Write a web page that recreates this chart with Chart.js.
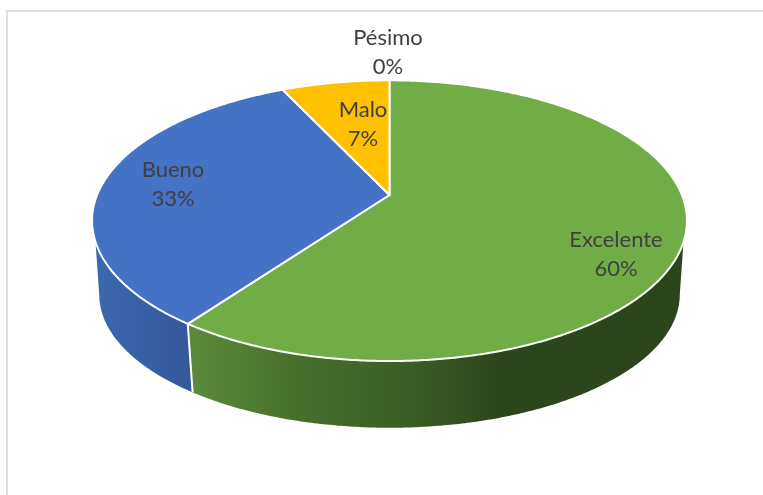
<!DOCTYPE html>
<html>
<head>
<meta charset="utf-8">
<style>
  html, body { margin: 0; background: #fff; overflow: hidden; }
  #frame { position: absolute; left: 6px; top: 10px; right: 0; bottom: 0; border-left: 2px solid #dfdfdf; border-top: 2px solid #dfdfdf; }
  #pie { position: absolute; left: 0; top: 0; }
</style>
</head>
<body>
<div id="frame"></div>
<canvas id="pie" width="763" height="495"></canvas>
<script src="https://cdn.jsdelivr.net/npm/chart.js@4/dist/chart.umd.js"></script>
<script>
const categories = ['Excelente', 'Bueno', 'Malo', 'Pésimo']
const percents = [60, 33, 7, 0]
const colors = ['#70ad47', '#4472c4', '#ffc000', '#a5a5a5']

// where each label is centred, same order as categories
const labelSpots = [[616, 240], [173, 170], [363, 110], [388, 38]]
const lineGap = 29

// perspective of the tilted pie, worked out from the picture
const tilt = -0.183
const stretchX = 2.565
const stretchY = 1.19
const rad = Math.PI / 180

function ringPoint(arc, a, low) {
  const R = arc.outerRadius
  const px = Math.cos(a)
  const py = Math.sin(a)
  const d = 1 + tilt * py
  const x = stretchX * R * px / d
  const y = stretchY * R * py / d
  if (!low) return [arc.x + x, arc.y + y]
  return [arc.x + x * 0.976, arc.y + 75 + y * 0.95]
}

function traceRing(ctx, arc, from, to, low) {
  const steps = Math.max(2, Math.ceil(Math.abs(to - from) / (0.5 * rad)))
  for (let i = 0; i <= steps; i++) {
    const p = ringPoint(arc, from + (to - from) * i / steps, low)
    ctx.lineTo(p[0], p[1])
  }
}

// arcs keep the angles Chart.js gives them, only the outline is projected
Chart.ArcElement.prototype.draw = function (ctx) {
  if (this.endAngle - this.startAngle < 0.001) return
  ctx.save()
  ctx.beginPath()
  ctx.moveTo(this.x, this.y)
  traceRing(ctx, this, this.startAngle, this.endAngle, false)
  ctx.closePath()
  ctx.fillStyle = this.options.backgroundColor
  ctx.fill()
  ctx.strokeStyle = '#fff'
  ctx.lineWidth = 2
  ctx.lineJoin = 'round'
  ctx.stroke()
  ctx.restore()
}

const wallColors = [
  [[194, '#5a8a3a'], [300, '#476f2b'], [400, '#3d5f26'], [500, '#2d451c'], [686, '#2d451c']],
  [[95, '#3c68ae'], [194, '#33589a']],
]

const wallPlugin = {
  id: 'wall',
  beforeDatasetsDraw(chart) {
    const ctx = chart.ctx
    const arcs = chart.getDatasetMeta(0).data
    const topRight = 19 * rad, topLeft = 161 * rad
    const lowRight = 10.5 * rad, lowLeft = 169.5 * rad
    wallColors.forEach((stops, i) => {
      const arc = arcs[i]
      const from = Math.max(arc.startAngle, topRight)
      const to = Math.min(arc.endAngle, topLeft)
      if (to <= from) return
      const lowFrom = from === topRight ? lowRight : from
      const lowTo = to === topLeft ? lowLeft : to
      const x0 = stops[0][0], x1 = stops[stops.length - 1][0]
      const grad = ctx.createLinearGradient(x0, 0, x1, 0)
      stops.forEach(s => grad.addColorStop((s[0] - x0) / (x1 - x0), s[1]))
      ctx.save()
      ctx.beginPath()
      traceRing(ctx, arc, from, to, false)
      traceRing(ctx, arc, lowTo, lowFrom, true)
      ctx.closePath()
      ctx.fillStyle = grad
      ctx.fill()
      ctx.restore()
    })
    // white seam between the two walls
    const seam = arcs[0].endAngle
    const a = ringPoint(arcs[0], seam, false), b = ringPoint(arcs[0], seam, true)
    ctx.save()
    ctx.strokeStyle = '#fff'
    ctx.lineWidth = 2
    ctx.beginPath()
    ctx.moveTo(a[0], a[1])
    ctx.lineTo(b[0], b[1])
    ctx.stroke()
    ctx.restore()
  },
}

const labelPlugin = {
  id: 'sliceLabels',
  afterDatasetsDraw(chart) {
    const ctx = chart.ctx
    ctx.save()
    ctx.font = '22px Lato'
    ctx.fillStyle = '#404040'
    ctx.textAlign = 'center'
    ctx.textBaseline = 'middle'
    categories.forEach((name, i) => {
      const spot = labelSpots[i]
      ctx.fillText(name, spot[0], spot[1])
      ctx.fillText(percents[i] + '%', spot[0], spot[1] + lineGap)
    })
    ctx.restore()
  },
}

const myChart = new Chart(document.getElementById('pie').getContext('2d'), {
  type: 'pie',
  data: {
    labels: categories,
    datasets: [{
      data: percents,
      backgroundColor: colors,
      borderWidth: 0,
      hoverOffset: 0,
    }],
  },
  options: {
    responsive: false,
    animation: false,
    layout: { padding: { left: 94, right: 78, top: 81, bottom: 186 } },
    plugins: { legend: { display: false }, tooltip: { enabled: false } },
  },
  plugins: [wallPlugin, labelPlugin],
})
</script>
</body>
</html>
